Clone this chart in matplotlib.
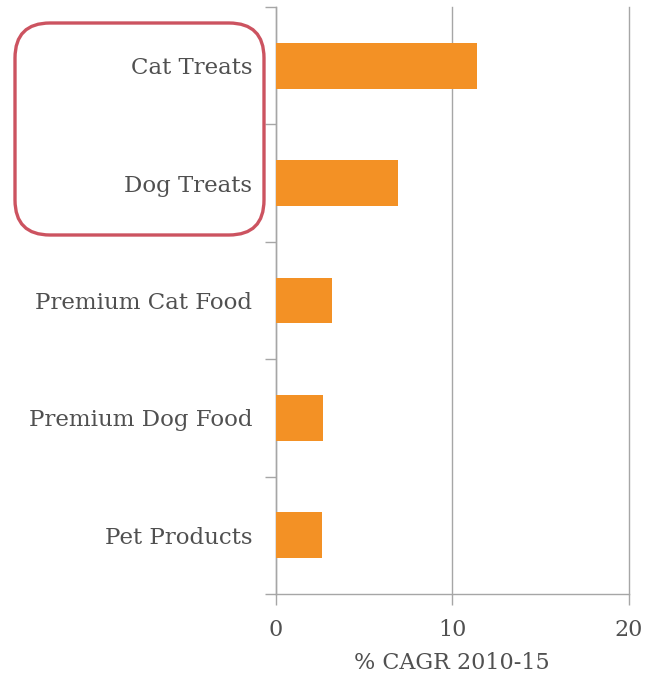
import matplotlib

matplotlib.use("Agg")
import matplotlib.pyplot as plt
from matplotlib.patches import FancyBboxPatch

categories = ["Cat Treats", "Dog Treats", "Premium Cat Food", "Premium Dog Food", "Pet Products"]
cagr = [11.4, 6.9, 3.2, 2.7, 2.6]
x_ticks = [0, 10, 20]

BAR = "#f39125"
GREY = "#a6a6a6"
TEXT = "#505050"

plt.rcParams["font.family"] = ["DejaVu Serif"]

fig = plt.figure(figsize=(6.55, 6.77), dpi=100)
ax = fig.add_axes([0.421, 0.1226, 0.539, 0.867])

ypos = list(range(len(categories)))
ax.barh(ypos, cagr, height=0.39, color=BAR, zorder=3)

ax.set_xlim(0, 20)
ax.set_ylim(len(categories) - 0.5, -0.5)
ax.set_xticks(x_ticks)
ax.set_xticklabels([str(t) for t in x_ticks], fontsize=16, color=TEXT)
ax.tick_params(axis="x", length=8, width=1, color=GREY, pad=10)
ax.xaxis.grid(True, color=GREY, linewidth=1, zorder=0)
for gl in ax.get_xgridlines():
    gl.set_clip_on(False)

# category boundaries get the tick marks, labels sit on minor ticks
ax.set_yticks([i - 0.5 for i in range(len(categories) + 1)])
ax.set_yticklabels([])
ax.tick_params(axis="y", which="major", length=8, width=1, color=GREY)
ax.set_yticks(ypos, minor=True)
ax.set_yticklabels(categories, minor=True, fontsize=16.5, color=TEXT)
ax.tick_params(axis="y", which="minor", length=0, pad=17)

for side in ["top", "right"]:
    ax.spines[side].set_visible(False)
for side in ["left", "bottom"]:
    ax.spines[side].set_color(GREY)
    ax.spines[side].set_linewidth(1)

ax.set_xlabel("% CAGR 2010-15", fontsize=16, color=TEXT, labelpad=8)

# red highlight box around the two treat categories (inches from lower left)
box = FancyBboxPatch(
    (0.15, 4.42), 2.49, 2.12,
    boxstyle="round,pad=0,rounding_size=0.35",
    transform=fig.dpi_scale_trans,
    fill=False, edgecolor="#cc5360", linewidth=2.4,
)
fig.add_artist(box)

fig.savefig("out.png", dpi=100)
